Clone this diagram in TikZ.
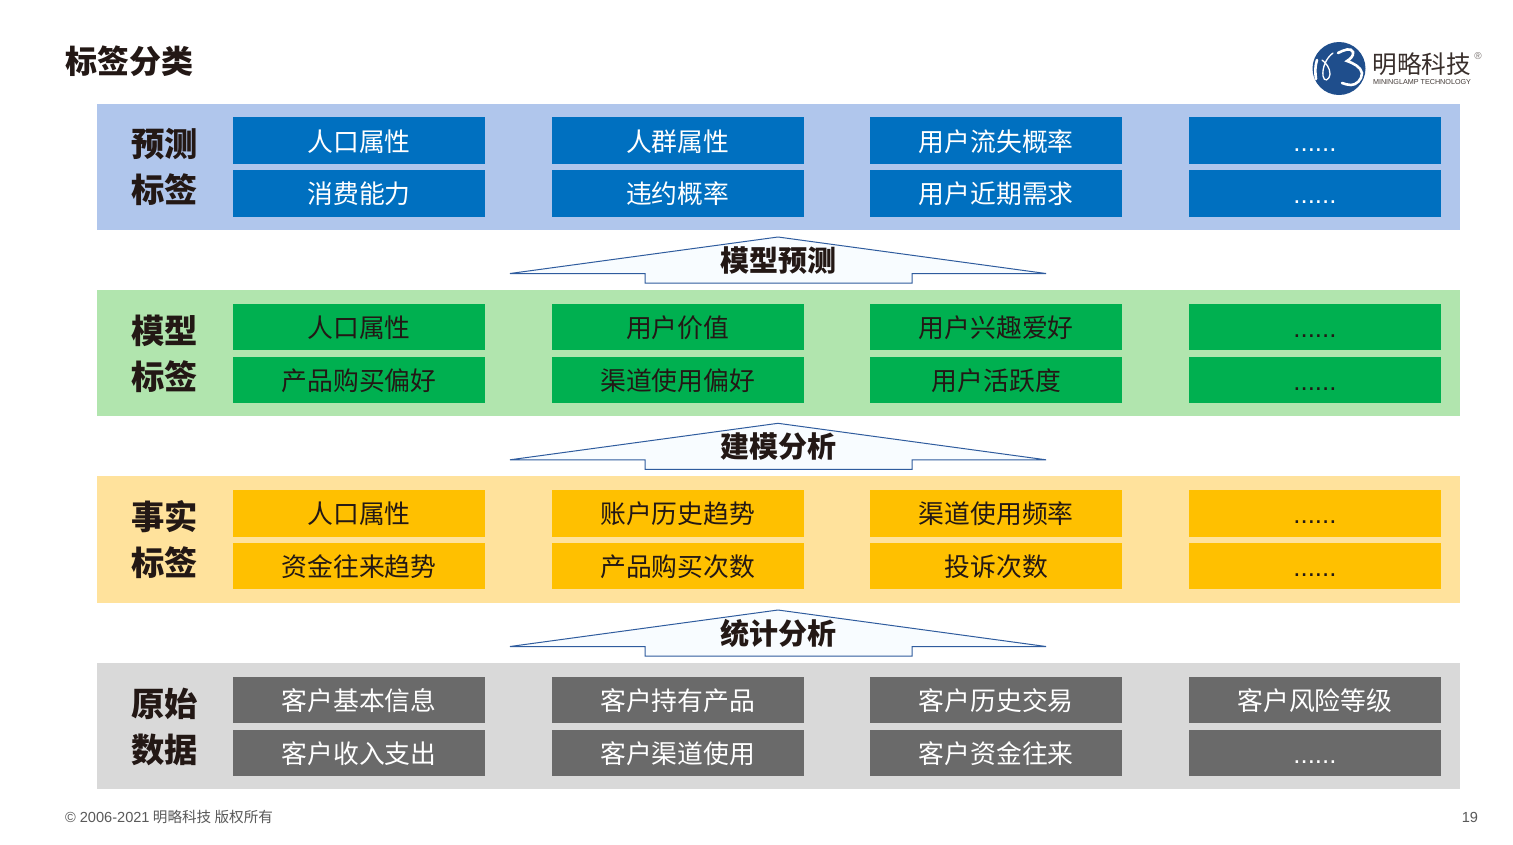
\documentclass[tikz,border=0pt]{standalone}
\usepackage{fontspec}
\setmainfont{Noto Sans CJK SC}
\newfontfamily\latinfont{Liberation Sans}
\usetikzlibrary{positioning}
\definecolor{inkdark}{HTML}{231815}
\definecolor{bluecell}{HTML}{0070C0}
\definecolor{blueband}{HTML}{B0C6EC}
\definecolor{greencell}{HTML}{00B050}
\definecolor{greenband}{HTML}{B1E5AE}
\definecolor{goldcell}{HTML}{FFC000}
\definecolor{goldband}{HTML}{FFE29C}
\definecolor{greycell}{HTML}{6A6A6A}
\definecolor{greyband}{HTML}{D9D9D9}
\definecolor{logoblue}{HTML}{1F4E8C}
\definecolor{arrowline}{HTML}{2F5C9E}
\definecolor{arrowfill}{HTML}{F8FCFF}
\definecolor{footgrey}{HTML}{595959}
\begin{document}
\begin{tikzpicture}[x=1pt,y=-1pt,
every node/.style={inner sep=0pt,outer sep=0pt},
band/.style={minimum width=1363pt,minimum height=126.4pt,anchor=north west},
cell/.style={minimum width=252.3pt,minimum height=46.5pt,text height=22pt,text depth=1pt,font=\fontsize{25.8}{26}\selectfont},
bluebox/.style={cell,fill=bluecell,text=white},
greenbox/.style={cell,fill=greencell,text=inkdark},
goldbox/.style={cell,fill=goldcell,text=inkdark},
greybox/.style={cell,fill=greycell,text=white},
side/.style={font=\fontsize{33.3}{33.3}\selectfont\bfseries,text=inkdark},
step label/.style={font=\fontsize{29}{29}\selectfont\bfseries,text=inkdark},
uparrow/.style={draw=arrowline,line width=1pt,fill=arrowfill}]
\useasboundingbox (0,0) rectangle (1513,844);
\fill[white] (0,0) rectangle (1513,844);
\node[anchor=west,font=\fontsize{32}{32}\selectfont\bfseries,text=inkdark] (title) at (65,61) {标签分类};
% logo
\fill[logoblue] (1339,68.5) circle (26.5);
\draw[white,line width=2.6pt,line cap=round] (1317,60) .. controls (1315,66) and (1315,72) .. (1316,79);
\draw[white,line width=1.3pt,line cap=round] (1333,53) .. controls (1326,58) and (1322,68) .. (1323,76) .. controls (1324,82) and (1329,81) .. (1330,74) .. controls (1330,68) and (1326,63) .. (1322,60);
\draw[white,line width=2.6pt,line cap=round] (1338,53) .. controls (1344,50) and (1351,47) .. (1353,52) .. controls (1354,56) and (1350,59) .. (1347,61) .. controls (1353,63) and (1361,67) .. (1362,73) .. controls (1362,80) and (1356,85) .. (1351,85) .. controls (1348,85) and (1345,84) .. (1342,83);
\node[anchor=west,font=\fontsize{24.6}{25}\selectfont,text=inkdark!90] (logoname) at (1372.5,64) {明略科技};
\node[anchor=west,font=\latinfont\fontsize{7.2}{7.2}\selectfont,text=inkdark!85] (logosub) at (1373,82.5) {MININGLAMP TECHNOLOGY};
\node[font=\latinfont\fontsize{10}{10}\selectfont,text=inkdark!60] (logoreg) at (1478,56) {®};
% bands
\node[band,fill=blueband] (predband) at (97,104) {};
\node[band,fill=greenband] (modelband) at (97,290) {};
\node[band,fill=goldband] (factband) at (97,476.3) {};
\node[band,fill=greyband] (rawband) at (97,663) {};
% side labels
\node[side] (predA) at (164.5,144) {预测};
\node[side] (predB) at (164.5,190) {标签};
\node[side] (modelA) at (164.5,331) {模型};
\node[side] (modelB) at (164.5,377) {标签};
\node[side] (factA) at (164.5,517) {事实};
\node[side] (factB) at (164.5,563) {标签};
\node[side] (rawA) at (164.5,704) {原始};
\node[side] (rawB) at (164.5,750) {数据};
% first band
\node[bluebox] (p11) at (359.1,140.5) {人口属性};
\node[bluebox,right=66.3pt of p11] (p12) {人群属性};
\node[bluebox,right=66.3pt of p12] (p13) {用户流失概率};
\node[bluebox,right=66.3pt of p13] (p14) {\latinfont ......};
\node[bluebox,below=6.4pt of p11] (p21) {消费能力};
\node[bluebox,below=6.4pt of p12] (p22) {违约概率};
\node[bluebox,below=6.4pt of p13] (p23) {用户近期需求};
\node[bluebox,below=6.4pt of p14] (p24) {\latinfont ......};
% second band
\node[greenbox] (m11) at (359.1,327) {人口属性};
\node[greenbox,right=66.3pt of m11] (m12) {用户价值};
\node[greenbox,right=66.3pt of m12] (m13) {用户兴趣爱好};
\node[greenbox,right=66.3pt of m13] (m14) {\latinfont ......};
\node[greenbox,below=6.4pt of m11] (m21) {产品购买偏好};
\node[greenbox,below=6.4pt of m12] (m22) {渠道使用偏好};
\node[greenbox,below=6.4pt of m13] (m23) {用户活跃度};
\node[greenbox,below=6.4pt of m14] (m24) {\latinfont ......};
% third band
\node[goldbox] (f11) at (359.1,513.3) {人口属性};
\node[goldbox,right=66.3pt of f11] (f12) {账户历史趋势};
\node[goldbox,right=66.3pt of f12] (f13) {渠道使用频率};
\node[goldbox,right=66.3pt of f13] (f14) {\latinfont ......};
\node[goldbox,below=6.4pt of f11] (f21) {资金往来趋势};
\node[goldbox,below=6.4pt of f12] (f22) {产品购买次数};
\node[goldbox,below=6.4pt of f13] (f23) {投诉次数};
\node[goldbox,below=6.4pt of f14] (f24) {\latinfont ......};
% fourth band
\node[greybox] (r11) at (359.1,700) {客户基本信息};
\node[greybox,right=66.3pt of r11] (r12) {客户持有产品};
\node[greybox,right=66.3pt of r12] (r13) {客户历史交易};
\node[greybox,right=66.3pt of r13] (r14) {客户风险等级};
\node[greybox,below=6.4pt of r11] (r21) {客户收入支出};
\node[greybox,below=6.4pt of r12] (r22) {客户渠道使用};
\node[greybox,below=6.4pt of r13] (r23) {客户资金往来};
\node[greybox,below=6.4pt of r14] (r24) {\latinfont ......};
% arrows between the bands
\draw[uparrow] (778,237) -- (1046,273.5) -- (912,273.5) -- (912,283) -- (645,283) -- (645,273.5) -- (510,273.5) -- cycle;
\draw[uparrow] (778,423.3) -- (1046,459.8) -- (912,459.8) -- (912,469.3) -- (645,469.3) -- (645,459.8) -- (510,459.8) -- cycle;
\draw[uparrow] (778,610) -- (1046,646.5) -- (912,646.5) -- (912,656) -- (645,656) -- (645,646.5) -- (510,646.5) -- cycle;
\node[step label] (stepA) at (778,260.5) {模型预测};
\node[step label] (stepB) at (778,446.8) {建模分析};
\node[step label] (stepC) at (778,633.5) {统计分析};
% footer
\node[anchor=west,font=\fontsize{14.6}{15}\selectfont,text=footgrey] (copy) at (65,817) {{\latinfont © 2006-2021} 明略科技 版权所有};
\node[anchor=east,font=\latinfont\fontsize{14.6}{15}\selectfont,text=footgrey] (pageno) at (1478,817) {19};
\end{tikzpicture}
\end{document}
